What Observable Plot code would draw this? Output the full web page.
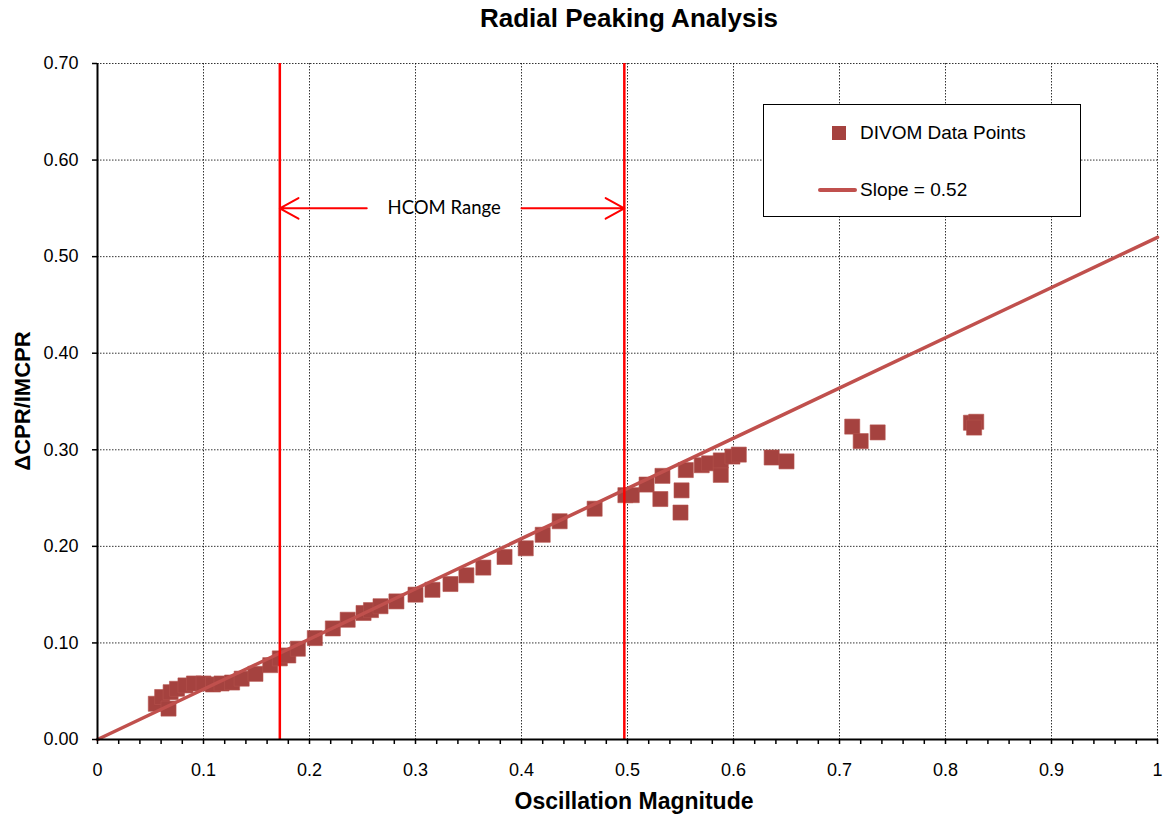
<!DOCTYPE html>
<html><head><meta charset="utf-8">
<script src="https://cdn.jsdelivr.net/npm/d3@7"></script>
<script src="https://cdn.jsdelivr.net/npm/@observablehq/plot@0.6"></script>
<style>
body{margin:0;background:#fff;font-family:"Liberation Sans",Arial,sans-serif;}
#wrap{position:relative;width:1164px;height:815px;overflow:hidden;}
#chart{position:absolute;left:0;top:0;}
.title{position:absolute;left:329px;width:600px;top:3px;line-height:30px;text-align:center;font-weight:bold;font-size:26px;color:#000;}
.xlabel{position:absolute;left:334px;width:600px;top:788px;line-height:26px;text-align:center;font-weight:bold;font-size:23px;color:#000;}
.ylabel{position:absolute;left:23px;top:401px;transform:translate(-50%,-50%) rotate(-90deg);white-space:nowrap;font-weight:bold;font-size:22px;line-height:26px;color:#000;}
.legend{position:absolute;left:763px;top:104px;width:316px;height:111px;border:1.5px solid #000;background:#fff;}
.legend .row{position:absolute;left:0;font-size:19px;line-height:22px;color:#000;white-space:nowrap;}
.legend .sw-sq{position:absolute;width:14px;height:14px;background:#a5423f;}
.legend .sw-ln{position:absolute;width:39px;height:4px;border-radius:2px;background:#c0504d;}
</style>
</head><body>
<div id="wrap">
  <div id="chart"></div>
  <div class="title">Radial Peaking Analysis</div>
  <div class="xlabel">Oscillation Magnitude</div>
  <div class="ylabel">ΔCPR/IMCPR</div>
  <div class="legend" id="legend"></div>
</div>
<script>
// ---- data ----
const oscMagnitude = [0.055,0.061,0.067,0.069,0.075,0.083,0.091,0.100,0.109,0.117,0.127,0.136,0.149,0.163,0.172,0.180,0.189,0.205,0.222,0.236,0.251,0.258,0.267,0.282,0.300,0.316,0.333,0.348,0.364,0.384,0.404,0.420,0.436,0.469,0.498,0.504,0.518,0.531,0.533,0.550,0.551,0.555,0.570,0.577,0.588,0.588,0.599,0.605,0.636,0.650,0.712,0.720,0.736,0.824,0.829,0.827];
const cprRatio     = [0.037,0.044,0.032,0.049,0.0525,0.056,0.058,0.058,0.057,0.058,0.059,0.063,0.068,0.077,0.084,0.087,0.094,0.105,0.115,0.124,0.131,0.134,0.138,0.143,0.150,0.155,0.161,0.170,0.178,0.189,0.198,0.212,0.226,0.239,0.253,0.253,0.264,0.249,0.273,0.235,0.258,0.279,0.284,0.286,0.274,0.289,0.293,0.295,0.292,0.288,0.324,0.309,0.318,0.328,0.329,0.323];
const slope = 0.52;
const slopeXs = [0, 1];
const hcomBounds = [0.172, 0.497];
const hcomLabel = "HCOM Range";
const hcomLevel = 0.55;
const hcomArrowStarts = [0.254, 0.400];
const xTicks = [0,0.1,0.2,0.3,0.4,0.5,0.6,0.7,0.8,0.9,1];
const xTickLabels = ["0","0.1","0.2","0.3","0.4","0.5","0.6","0.7","0.8","0.9","1"];
const xMinorTicks = [0.02,0.04,0.06,0.08,0.12,0.14,0.16,0.18,0.22,0.24,0.26,0.28,0.32,0.34,0.36,0.38,0.42,0.44,0.46,0.48,0.52,0.54,0.56,0.58,0.62,0.64,0.66,0.68,0.72,0.74,0.76,0.78,0.82,0.84,0.86,0.88,0.92,0.94,0.96,0.98];
const yTicks = [0,0.1,0.2,0.3,0.4,0.5,0.6,0.7];
const yTickLabels = ["0.00","0.10","0.20","0.30","0.40","0.50","0.60","0.70"];
const seriesNames = ["DIVOM Data Points", "Slope = 0.52"];

// ---- build ----
const points = oscMagnitude.map((x,i)=>({x, y: cprRatio[i]}));
const slopeLine = slopeXs.map(x=>({x, y: slope*x}));
const arrows = hcomArrowStarts.map((s,i)=>({x1:s, x2:hcomBounds[i], y:hcomLevel}));
const dotColor = "#a5423f", lineColor = "#c0504d";

const chart = Plot.plot({
  width:1164, height:815,
  marginTop:63, marginBottom:76, marginLeft:97, marginRight:7,
  style:{fontFamily:"'Liberation Sans', Arial, sans-serif", fontSize:"18px", color:"#000", background:"transparent"},
  x:{domain:[0,1], label:null},
  y:{domain:[0,0.7], label:null},
  marks:[
    Plot.gridX(xTicks.filter(d=>d>0), {stroke:"#000", strokeOpacity:0.8, strokeDasharray:"1.5,1.5", strokeWidth:1}),
    Plot.gridY(yTicks.filter(d=>d>0), {stroke:"#000", strokeOpacity:0.8, strokeDasharray:"1.5,1.5", strokeWidth:1}),
    Plot.dot(points, {x:"x", y:"y", symbol:"square", r:8.5, fill:dotColor, stroke:"#b5524e", strokeWidth:0.6}),
    Plot.line(slopeLine, {x:"x", y:"y", stroke:lineColor, strokeWidth:3.5}),
    Plot.ruleX(hcomBounds, {stroke:"#ff0000", strokeWidth:2.5}),
    Plot.arrow(arrows, {x1:"x1", x2:"x2", y1:"y", y2:"y", stroke:"#ff0000", strokeWidth:2, headLength:16, headAngle:58}),
    Plot.text([hcomLabel], {x:(hcomArrowStarts[0]+hcomArrowStarts[1])/2, y:hcomLevel, text:d=>d, fontSize:18.5, fontFamily:"Lato, 'Open Sans', sans-serif", fill:"#000"}),
    Plot.axisX(xMinorTicks, {tickSize:5, tickFormat:()=>"", stroke:"#000", strokeWidth:1.5}),
    Plot.axisX(xTicks, {tickSize:5, tickPadding:19, tickFormat:(d)=>xTickLabels[xTicks.indexOf(d)], stroke:"#000", strokeWidth:1.5, fontSize:18}),
    Plot.axisY(yTicks, {tickSize:5, tickPadding:14, tickFormat:d=>yTickLabels[yTicks.indexOf(d)], stroke:"#000", strokeWidth:1.5, fontSize:18}),
    Plot.ruleX([0], {stroke:"#000", strokeWidth:2}),
    Plot.ruleY([0], {stroke:"#000", strokeWidth:2})
  ]
});
document.getElementById("chart").appendChild(chart);

// legend
const lg = document.getElementById("legend");
lg.innerHTML = `
  <div class="sw-sq" style="left:68px;top:21px"></div>
  <div class="row" style="left:96px;top:17px">${seriesNames[0]}</div>
  <div class="sw-ln" style="left:54px;top:83px"></div>
  <div class="row" style="left:96px;top:74px">${seriesNames[1]}</div>`;
</script>
</body></html>
